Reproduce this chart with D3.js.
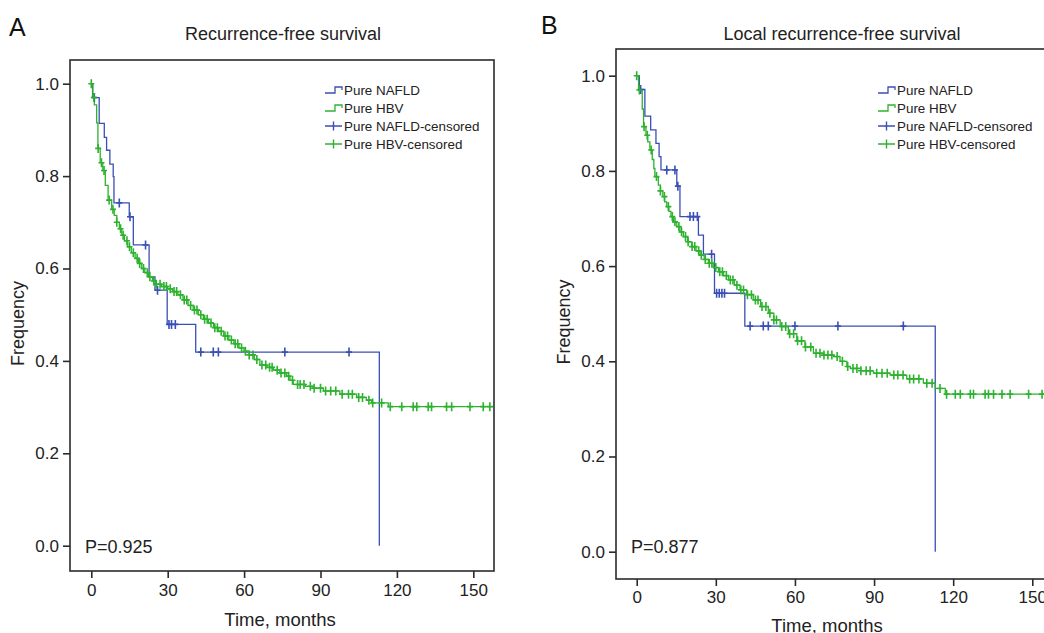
<!DOCTYPE html>
<html>
<head>
<meta charset="utf-8">
<script src="https://cdn.jsdelivr.net/npm/d3@7/dist/d3.min.js"></script>
<style>
  html, body { margin: 0; padding: 0; background: #fff; }
  svg { display: block; font-family: "Liberation Sans", Arial, sans-serif; }
</style>
</head>
<body>
<svg id="chart" width="1044" height="633"></svg>
<script>
// ---- Data ----------------------------------------------------------------
const timeTicks = [0, 30, 60, 90, 120, 150];
const freqTicks = [0, 0.2, 0.4, 0.6, 0.8, 1.0];
const seriesNames = ["Pure NAFLD", "Pure HBV"];
const legendLabels = ["Pure NAFLD", "Pure HBV", "Pure NAFLD-censored", "Pure HBV-censored"];
const panelTitles = ["Recurrence-free survival", "Local recurrence-free survival"];
const panelLetters = ["A", "B"];
const pValues = ["P=0.925", "P=0.877"];

// Recurrence-free survival: Kaplan-Meier steps [months, survival] and censored times
const rfsNafldSteps = [[0, 1.0], [0.5, 0.970], [3.1, 0.914], [5.1, 0.884], [6.0, 0.856], [7.3, 0.826],
  [8.6, 0.799], [8.9, 0.742], [14.9, 0.712], [16.5, 0.651], [22.7, 0.582], [25.0, 0.553],
  [29.8, 0.479], [41.0, 0.419], [113.1, 0.0]];
const rfsNafldCensored = [1.2, 11, 15.2, 21.3, 26, 30.5, 31.5, 33, 43, 47.9, 49.9, 76, 101.2];
const rfsNafldEnd = 113.1;

const rfsHbvSteps = [[0, 1.0], [0.6, 0.97], [1.2, 0.954], [2.1, 0.915], [2.6, 0.86], [3.5, 0.829],
  [4.5, 0.812], [5.5, 0.78], [6.6, 0.748], [8.0, 0.728], [9.0, 0.715], [10.0, 0.70], [11.0, 0.686],
  [12.0, 0.672], [13.0, 0.66], [14.3, 0.647], [15.7, 0.634], [17.2, 0.622], [18.5, 0.611],
  [19.8, 0.60], [21.0, 0.591], [22.4, 0.582], [24.0, 0.573], [25.5, 0.566], [27.5, 0.561],
  [30.0, 0.556], [32.0, 0.55], [34.0, 0.543], [36.0, 0.532], [38.0, 0.52], [40.0, 0.51],
  [42.0, 0.50], [44.0, 0.49], [46.0, 0.482], [48.0, 0.472], [50.0, 0.464], [52.0, 0.454],
  [54.0, 0.445], [56.0, 0.437], [58.0, 0.428], [60.0, 0.421], [62.0, 0.413], [64.0, 0.403],
  [66.2, 0.391], [69.0, 0.386], [71.5, 0.380], [74.0, 0.374], [76.7, 0.367], [78.0, 0.358],
  [79.3, 0.349], [84.0, 0.345], [87.2, 0.341], [91.1, 0.335], [97.6, 0.328], [104.2, 0.321],
  [108.0, 0.315], [110.1, 0.309], [116.6, 0.301]];
const rfsHbvCensored = [0, 1.0, 2.7, 4, 5, 7, 8.5, 10, 11.5, 12.5, 14, 15, 16.5, 18, 19, 20.5, 22,
  23, 24.5, 25.5, 27, 28.5, 29.5, 31, 32.5, 33.5, 35, 36.5, 37.5, 39, 40.5, 41.5, 43, 44.5, 45.5,
  47, 48.5, 49.5, 51, 52.5, 53.5, 55, 56.5, 57.5, 59, 60.5, 62, 63.5, 65, 67, 68.5, 70, 71, 73,
  74.5, 76, 77.5, 79, 81, 82, 83.5, 86, 87.5, 90, 92, 94, 96, 98.5, 101, 102.5, 105, 106.5, 109,
  110.5, 114, 117.4, 121.9, 126.4, 127.8, 132.3, 133.6, 139.5, 141.5, 148.7, 153.9, 156.5];
const rfsHbvEnd = 157.8;

// Local recurrence-free survival
const lrfsNafldSteps = [[0, 1.0], [1.0, 0.971], [3.1, 0.915], [5.3, 0.886], [7.3, 0.858],
  [8.5, 0.830], [9.2, 0.802], [15.2, 0.768], [16.4, 0.704], [23.4, 0.665], [25.3, 0.625],
  [29.5, 0.543], [41.0, 0.474], [113.2, 0.0]];
const lrfsNafldCensored = [1.5, 11.4, 14.5, 15.6, 20.2, 21.5, 23, 28.4, 30.3, 31.3, 32.3, 33.3,
  43, 48, 49.9, 60, 76.3, 101.1];
const lrfsNafldEnd = 113.2;

const lrfsHbvSteps = [[0, 1.0], [0.7, 0.97], [2.1, 0.93], [2.6, 0.893], [3.5, 0.875], [4.2, 0.861],
  [5.0, 0.844], [5.9, 0.824], [6.5, 0.805], [6.9, 0.788], [8.2, 0.770], [9.0, 0.758], [9.9, 0.746],
  [10.6, 0.735], [11.4, 0.725], [12.2, 0.715], [13.0, 0.704], [13.9, 0.693], [15.2, 0.683],
  [16.4, 0.672], [17.7, 0.662], [19.3, 0.651], [20.9, 0.641], [22.5, 0.632], [24.0, 0.623],
  [25.6, 0.614], [27.2, 0.606], [29.0, 0.597], [31.0, 0.588], [32.9, 0.58], [34.8, 0.571],
  [37.0, 0.56], [39.2, 0.55], [41.7, 0.54], [44.2, 0.529], [47.0, 0.515], [49.9, 0.501],
  [52.0, 0.487], [54.4, 0.473], [57.5, 0.458], [60.7, 0.443], [63.8, 0.43], [67.0, 0.417],
  [71.0, 0.413], [74.6, 0.41], [77.1, 0.40], [79.7, 0.389], [81.0, 0.385], [85.0, 0.38],
  [89.8, 0.375], [96.1, 0.371], [102.4, 0.363], [108.7, 0.354], [113.2, 0.343], [117.0, 0.331]];
const lrfsHbvCensored = [0, 1.0, 2.8, 4, 5.5, 7.5, 9, 10.5, 12, 13.5, 14.5, 16, 17, 18.5, 19.5, 21,
  22, 23.5, 24.5, 26, 27.5, 28.5, 30, 31.5, 32.5, 34, 35.5, 36.5, 38, 39.5, 40.5, 42, 43.5, 45, 46,
  47.5, 49, 50.5, 52, 53, 55, 56.5, 58, 59.5, 61, 62.5, 64, 66, 68, 69.5, 71, 72.5, 74, 76, 78, 80,
  82, 83.5, 85, 87, 88.5, 91, 93, 95, 97.5, 99, 101, 103.5, 105, 107, 110, 112, 115, 117.5, 120.8,
  122.7, 126.5, 127.7, 132.1, 133.4, 135.3, 138.5, 141.6, 148.6, 153.7];
const lrfsHbvEnd = 157.8;

// ---- Styling / layout ----------------------------------------------------
const colors = ["#3a4fb6", "#2db22f"];
const frameColor = "#2b2b2b";

const panels = [
  {
    letter: panelLetters[0], title: panelTitles[0], p: pValues[0],
    frame: { left: 70, right: 494, top: 60, bottom: 571 },
    xRange: [91.3, 473.3], yRange: [545.7, 83.7],
    letterPos: [9, 36], titleX: 283, titleY: 40,
    yLabelX: 23.5, xLabel: [280, 626], tickLabelY: 596,
    legend: { x: 325, y: 90, gap: 18 },
    pPos: [85, 553],
    series: [
      { steps: rfsNafldSteps, censored: rfsNafldCensored, end: rfsNafldEnd },
      { steps: rfsHbvSteps, censored: rfsHbvCensored, end: rfsHbvEnd }
    ]
  },
  {
    letter: panelLetters[1], title: panelTitles[1], p: pValues[1],
    frame: { left: 616, right: 1054, top: 49, bottom: 579 },
    xRange: [636.7, 1032.3], yRange: [551.7, 75.7],
    letterPos: [541, 34], titleX: 842, titleY: 40,
    yLabelX: 569.5, xLabel: [827, 631.5], tickLabelY: 603,
    legend: { x: 878, y: 90, gap: 18 },
    pPos: [631, 553],
    series: [
      { steps: lrfsNafldSteps, censored: lrfsNafldCensored, end: lrfsNafldEnd },
      { steps: lrfsHbvSteps, censored: lrfsHbvCensored, end: lrfsHbvEnd }
    ]
  }
];

const svg = d3.select("#chart");

// survival value of a step function at time t
function survivalAt(steps, t) {
  let s = steps[0][1];
  for (const [ti, si] of steps) { if (ti <= t) s = si; else break; }
  return s;
}

panels.forEach(pn => {
  const g = svg.append("g");
  const x = d3.scaleLinear().domain([timeTicks[0], timeTicks[timeTicks.length - 1]]).range(pn.xRange);
  const y = d3.scaleLinear().domain([freqTicks[0], freqTicks[freqTicks.length - 1]]).range(pn.yRange);
  const f = pn.frame;

  // frame
  g.append("rect")
    .attr("x", f.left).attr("y", f.top)
    .attr("width", f.right - f.left).attr("height", f.bottom - f.top)
    .attr("fill", "none").attr("stroke", frameColor).attr("stroke-width", 1.6);

  // axes
  const xAxis = d3.axisBottom(x).tickValues(timeTicks).tickSize(7).tickPadding(4).tickFormat(d3.format("d"));
  const gx = g.append("g").attr("transform", `translate(0,${f.bottom})`).call(xAxis);
  gx.select(".domain").remove();
  gx.selectAll(".tick line").attr("stroke", frameColor).attr("stroke-width", 1.6);
  gx.selectAll(".tick text").attr("fill", "#222").attr("font-size", 17)
    .attr("dy", null).attr("y", pn.tickLabelY - f.bottom);

  const yAxis = d3.axisLeft(y).tickValues(freqTicks).tickSize(7).tickPadding(4).tickFormat(d3.format(".1f"));
  const gy = g.append("g").attr("transform", `translate(${f.left},0)`).call(yAxis);
  gy.select(".domain").remove();
  gy.selectAll(".tick line").attr("stroke", frameColor).attr("stroke-width", 1.6);
  gy.selectAll(".tick text").attr("fill", "#222").attr("font-size", 17);

  // titles and labels
  g.append("text").attr("x", pn.letterPos[0]).attr("y", pn.letterPos[1])
    .attr("font-size", 25).attr("fill", "#111").text(pn.letter);
  g.append("text").attr("x", pn.titleX).attr("y", pn.titleY).attr("text-anchor", "middle")
    .attr("font-size", 18).attr("fill", "#222").text(pn.title);
  g.append("text")
    .attr("transform", `translate(${pn.yLabelX},${(f.top + f.bottom) / 2 + 8}) rotate(-90)`)
    .attr("text-anchor", "middle").attr("font-size", 18).attr("fill", "#222").text("Frequency");
  g.append("text").attr("x", pn.xLabel[0]).attr("y", pn.xLabel[1]).attr("text-anchor", "middle")
    .attr("font-size", 18.5).attr("fill", "#222").text("Time, months");
  g.append("text").attr("x", pn.pPos[0]).attr("y", pn.pPos[1])
    .attr("font-size", 18).attr("fill", "#222").text(pn.p);

  // survival curves
  const line = d3.line().x(d => x(d[0])).y(d => y(d[1])).curve(d3.curveStepAfter);
  pn.series.forEach((s, i) => {
    const pts = s.steps.slice();
    const last = pts[pts.length - 1];
    if (last[0] < s.end) pts.push([s.end, last[1]]);
    g.append("path").attr("d", line(pts)).attr("fill", "none")
      .attr("stroke", colors[i]).attr("stroke-width", 1.3);
  });

  // censored marks
  pn.series.forEach((s, i) => {
    g.append("g").selectAll("path").data(s.censored).join("path")
      .attr("d", t => {
        const cx = x(t), cy = y(survivalAt(s.steps, t));
        return `M${cx},${cy - 4.5}V${cy + 4.5}M${cx - 3},${cy}H${cx + 3}`;
      })
      .attr("fill", "none").attr("stroke", colors[i]).attr("stroke-width", 1.6);
  });

  // legend
  const lg = g.append("g").attr("transform", `translate(${pn.legend.x},${pn.legend.y})`);
  legendLabels.forEach((lab, k) => {
    const c = colors[k % 2];
    const yy = k * pn.legend.gap;
    if (k < 2) {
      lg.append("path").attr("d", `M0,${yy + 3}H10V${yy - 3}H17V${yy}`)
        .attr("fill", "none").attr("stroke", c).attr("stroke-width", 1.3);
    } else {
      lg.append("path").attr("d", `M0,${yy}H17M8.5,${yy - 4.5}V${yy + 4.5}`)
        .attr("fill", "none").attr("stroke", c).attr("stroke-width", 1.4);
    }
    lg.append("text").attr("x", 19).attr("y", yy + 4.5)
      .attr("font-size", 13.4).attr("fill", "#222").text(lab);
  });
});
</script>
</body>
</html>
